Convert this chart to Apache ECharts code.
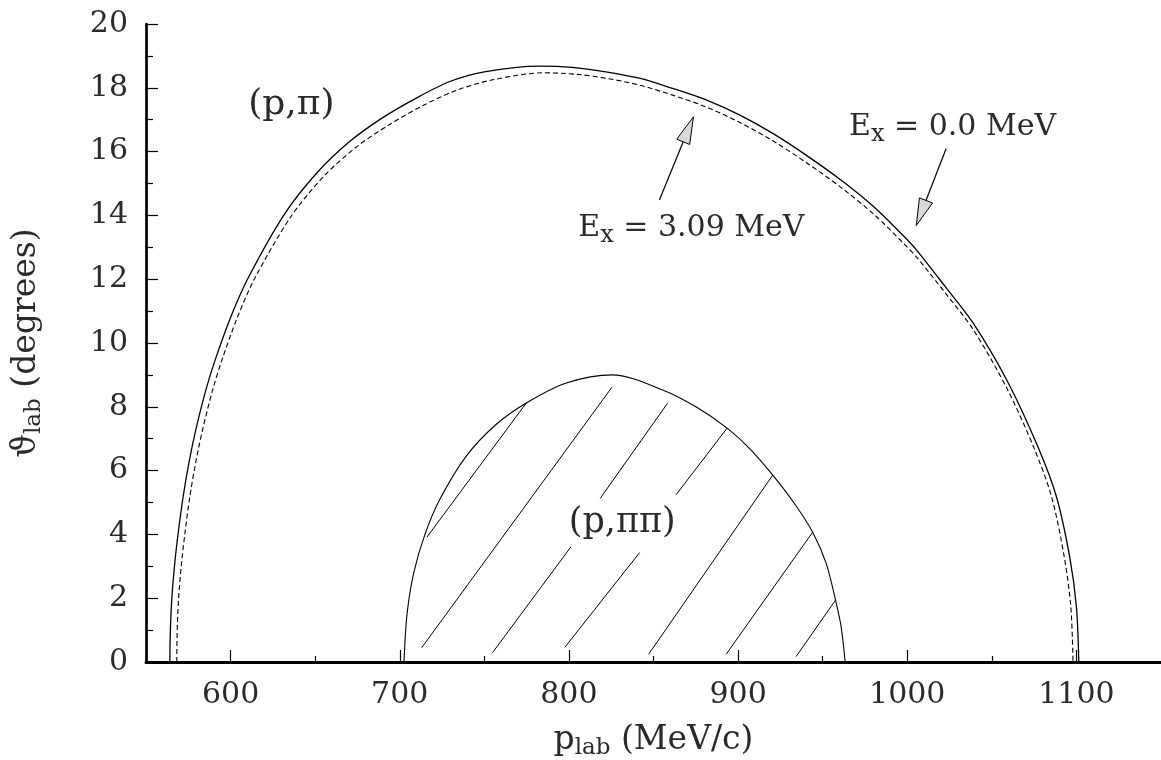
<!DOCTYPE html>
<html><head><meta charset="utf-8">
<script src="https://cdn.jsdelivr.net/npm/echarts@6/dist/echarts.min.js"></script>
<style>html,body{margin:0;padding:0;background:#fff}#c{width:1161px;height:760px}</style>
</head><body><div id="c"></div>
<script>
// ---- data ----
const xMajorTicks = [600, 700, 800, 900, 1000, 1100];
const xMinorTicks = [650, 750, 850, 950, 1050];
const yTickStep = 2;

// (p,pi) kinematic locus, Ex = 0.0 MeV (solid)
const locusEx0 = [[564.1,0],[564.35,0.9],[565.2,1.94],[566.8,2.99],[569.0,4.03],[571.95,5.18],[575.3,6.23],[579.4,7.27],[585.4,8.53],[590.9,9.47],[600,10.8],[610.3,12.03],[631.5,14.01],[650.8,15.32],[670,16.3],[689.5,17.05],[709.5,17.67],[729.2,18.19],[750,18.5],[782.3,18.68],[802.1,18.64],[821.9,18.5],[841.6,18.3],[861.3,17.98],[881.1,17.62],[900.8,17.15],[920.5,16.57],[940.2,15.89],[961,15.1],[980.2,14.27],[998.3,13.33],[1005.4,12.92],[1022,11.8],[1039,10.62],[1059.8,8.74],[1077.6,6.7],[1088.2,5.18],[1096,3.3],[1100,1.73],[1101.4,0]];
// (p,pi) kinematic locus, Ex = 3.09 MeV (dashed)
const locusEx309 = [[568.2,0],[568.4,0.9],[569.2,1.94],[570.8,2.99],[573.0,4.03],[575.9,5.18],[579.3,6.23],[583.4,7.27],[589.4,8.53],[594.9,9.47],[604,10.8],[614.3,12.03],[635.5,13.95],[655,15.22],[674.5,16.15],[694,16.85],[714,17.45],[734,17.93],[755,18.25],[785,18.47],[805,18.42],[823,18.29],[842,18.08],[861.3,17.77],[881.1,17.4],[900.8,16.92],[920.5,16.34],[940.2,15.66],[961,14.87],[980.2,14.04],[998.3,13.1],[1005.4,12.7],[1022,11.6],[1039,10.42],[1059,8.57],[1075,6.7],[1085.3,5.18],[1092.8,3.3],[1096.7,1.73],[1098,0]];
// (p,pipi) region boundary
const locusPiPi = [[702.5,0],[704.3,1.5],[708.3,2.8],[714.9,4.0],[723.7,5.1],[739.1,6.44],[756.6,7.43],[775.5,8.14],[798,8.74],[825.8,9.0],[855.4,8.53],[875.1,8.0],[893.5,7.33],[906.7,6.7],[920.5,5.86],[933.3,4.97],[944.1,4.07],[952.1,3.09],[957.6,1.94],[960.9,1.11],[963.3,0]];
// hatching segments inside the (p,pipi) region
const hatchSegments = [
  [[716.0,3.91],[775.1,8.14]],
  [[713.0,0.45],[825.4,8.61]],
  [[754.8,0.29],[801.2,3.61]],
  [[818.5,5.13],[858.3,8.11]],
  [[797.6,0.46],[841.8,3.43]],
  [[863.3,5.24],[893.5,7.33]],
  [[847.1,0.24],[920.5,5.86]],
  [[892.9,0.24],[944.1,4.07]],
  [[934.3,0.17],[957.6,1.94]]
];
// arrows: [tail, tip]
const arrowEx309 = [[853.5,14.48],[873.6,17.09]];
const arrowEx0 = [[1023,16.1],[1005.3,13.68]];
// text anchors
const labelPPi = [635.9, 17.46];
const labelPPiPi = [831.5, 4.36];
const labelEx309 = [872.4, 13.6];
const labelEx0 = [1026.8, 16.77];

// ---- chart ----
const FONT = 'DejaVu Serif';
const TXT = '#2a2a2a';
const chart = echarts.init(document.getElementById('c'), null, {renderer: 'canvas'});

const richName = {
  m: {fontFamily: FONT, fontSize: 33, color: TXT, lineHeight: 40},
  s: {fontFamily: FONT, fontSize: 23, color: TXT, lineHeight: 32, verticalAlign: 'bottom'}
};

function arrowShapes(api, seg) {
  const tail = api.coord(seg[0]);
  const tip = api.coord(seg[1]);
  const dx = tip[0] - tail[0], dy = tip[1] - tail[1];
  const len = Math.sqrt(dx*dx + dy*dy);
  const ux = dx/len, uy = dy/len;
  const L = 27, W = 14;
  const bx = tip[0] - ux*L, by = tip[1] - uy*L;
  const px = -uy, py = ux;
  return [
    {type: 'polyline', shape: {points: [tail, [bx, by]]}, style: {stroke: '#000', lineWidth: 1.2, fill: null}},
    {type: 'polygon', shape: {points: [tip, [bx + px*W/2, by + py*W/2], [bx - px*W/2, by - py*W/2]]},
     style: {fill: '#d9d9d9', stroke: '#000', lineWidth: 1}}
  ];
}
function textEl(api, pos, text, size) {
  const p = api.coord(pos);
  return {type: 'text', x: p[0], y: p[1], style: {
    text: text, align: 'center', verticalAlign: 'middle',
    rich: {
      m: {fontFamily: FONT, fontSize: size, fill: TXT, lineHeight: 40},
      s: {fontFamily: FONT, fontSize: 24, fill: TXT, lineHeight: 34, verticalAlign: 'bottom'}
    }
  }};
}

const option = {
  animation: false,
  backgroundColor: '#fff',
  grid: {left: 146, right: 0, top: 24, bottom: 98, containLabel: false, outerBoundsMode: 'none'},
  xAxis: [{
    type: 'value', min: 550, max: 1150, position: 'bottom',
    axisLine: {show: true, onZero: false, lineStyle: {color: '#000', width: 3}},
    axisTick: {show: true, inside: true, length: 12, customValues: xMajorTicks, lineStyle: {color: '#000', width: 1.2}},
    axisLabel: {show: true, customValues: xMajorTicks, margin: 18, fontFamily: FONT, fontSize: 30, color: TXT,
                formatter: v => String(v)},
    splitLine: {show: false},
    name: '{m|p}{s|lab}{m| (MeV/c)}',
    nameLocation: 'middle', nameGap: 58,
    nameTextStyle: {rich: richName}
  }, {
    type: 'value', min: 550, max: 1150, position: 'bottom',
    axisLine: {show: false},
    axisTick: {show: true, inside: true, length: 6, customValues: xMinorTicks, lineStyle: {color: '#000', width: 1.2}},
    axisLabel: {show: false},
    splitLine: {show: false}
  }],
  yAxis: {
    type: 'value', min: 0, max: 20, interval: yTickStep,
    axisLine: {show: true, onZero: false, lineStyle: {color: '#000', width: 2.7}},
    axisTick: {show: true, inside: true, length: 12, lineStyle: {color: '#000', width: 1.2}},
    minorTick: {show: true, splitNumber: 2, length: 7, lineStyle: {color: '#000', width: 1.2}},
    axisLabel: {margin: 18, fontFamily: FONT, fontSize: 30, color: TXT, formatter: v => String(v)},
    splitLine: {show: false},
    minorSplitLine: {show: false},
    name: '{m|ϑ}{s|lab}{m| (degrees)}',
    nameLocation: 'middle', nameGap: 100,
    nameTextStyle: {rich: richName}
  },
  series: [
    {type: 'line', name: 'Ex=0.0', data: locusEx0, showSymbol: false, smooth: 0.3,
     lineStyle: {color: '#000', width: 1.3}, z: 3},
    {type: 'line', name: 'Ex=3.09', data: locusEx309, showSymbol: false, smooth: 0.3,
     lineStyle: {color: '#000', width: 1.1, type: [5, 3]}, z: 3},
    {type: 'line', name: 'p,pipi', data: locusPiPi, showSymbol: false, smooth: 0.3,
     lineStyle: {color: '#000', width: 1.1}, z: 3},
    {type: 'lines', coordinateSystem: 'cartesian2d', polyline: false,
     data: hatchSegments.map(s => ({coords: s})),
     lineStyle: {color: '#000', width: 1, opacity: 1}, z: 3},
    {type: 'custom', silent: true, clip: false, z: 5,
     data: [[0, 0]],
     renderItem: function (params, api) {
       return {type: 'group', children: [].concat(
         arrowShapes(api, arrowEx309),
         arrowShapes(api, arrowEx0),
         [textEl(api, labelPPi, '{m|(p,π)}', 36),
          textEl(api, labelPPiPi, '{m|(p,ππ)}', 35),
          textEl(api, labelEx309, '{m|E}{s|x}{m| = 3.09 MeV}', 30),
          textEl(api, labelEx0, '{m|E}{s|x}{m| = 0.0 MeV}', 30)]
       )};
     }}
  ]
};
chart.setOption(option);
</script>
</body></html>
